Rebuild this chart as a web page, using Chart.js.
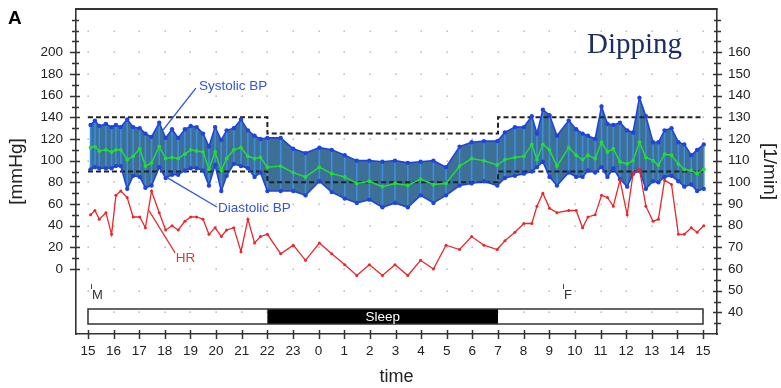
<!DOCTYPE html>
<html><head><meta charset="utf-8">
<script src="https://cdn.jsdelivr.net/npm/chart.js@4.4.0/dist/chart.umd.min.js"></script>
<style>html,body{margin:0;padding:0;background:#fff;}canvas{display:block;}</style>
</head><body>
<canvas id="c" width="781" height="388"></canvas>
<script>
// ---- data (hours since 15:00) ----
const times = [
  0.10,0.27,0.44,0.70,0.92,1.09,1.28,1.53,1.76,2.02,2.24,2.48,2.78,3.03,3.28,3.52,3.78,4.01,4.24,4.49,4.72,4.96,5.20,5.41,5.69,5.97,6.24,6.50,6.73,
  7.00,7.52,8.01,8.49,9.03,9.51,10.02,10.49,10.98,11.49,11.98,12.48,12.98,13.48,13.97,14.50,14.97,15.45,15.97,
  16.27,16.66,17.01,17.32,17.52,17.75,18.01,18.30,18.76,19.05,19.30,19.51,19.79,20.04,20.27,20.50,20.76,21.04,21.27,21.52,21.77,22.05,22.26,22.50,22.77,23.04,23.27,23.54,23.77,24.03
];
const systolic = [
  133,137,132,134,131,133,131,138,131,130,125,122,135,121,129,121,129,132,131,125,113,131,119,128,130,138,128,123,120,
  121,121,111,107,112,110,105,100,100,99,100,98,99,100,94,113,117,118,118,
  126,131,131,141,125,147,142,123,137,129,125,123,120,150,134,133,135,128,126,158,141,117,117,128,130,117,115,105,110,115
];
const diastolic = [
  92,94,93,93,93,95,95,74,86,85,75,77,94,84,87,87,91,93,93,91,77,96,72,86,97,95,93,85,89,
  72,72,72,68,81,71,65,61,64,57,61,57,68,61,68,77,79,81,77,
  84,86,88,90,94,99,85,77,89,85,85,91,89,94,85,93,83,76,88,91,74,81,80,85,86,81,76,78,72,74
];
const meanBP = [
  112,113,109,110,108,110,110,101,104,111,95,98,113,102,103,102,106,110,109,108,92,108,91,102,110,112,104,102,103,
  94,95,89,85,94,88,85,79,81,76,79,77,83,78,79,95,102,100,96,
  101,103,104,115,101,115,110,95,112,105,101,105,102,117,108,111,99,97,100,117,103,100,96,106,105,97,92,91,88,92
];
const heartRate = [
  85,87,83,86,76,94,96,93,84,84,79,96,86,78,80,78,82,84,84,83,76,79,75,78,79,68,83,72,75,
  76,67,71,64,72,67,62,57,62,57,62,57,64,60,71,69,75,71,69,
  73,77,81,81,89,95,88,86,87,87,79,84,85,94,93,89,101,85,104,106,89,82,83,101,99,76,76,79,77,80
];
const hourValues = [0,1,2,3,4,5,6,7,8,9,10,11,12,13,14,15,16,17,18,19,20,21,22,23,24];
const hourLabels = ['15','16','17','18','19','20','21','22','23','0','1','2','3','4','5','6','7','8','9','10','11','12','13','14','15'];
const leftTickValues = [0,20,40,60,80,100,120,140,160,180,200];
const rightTickValues = [40,50,60,70,80,90,100,110,120,130,140,150,160];
const leftMarkValues = [0,10,20,30,40,50,60,70,80,90,100,110,120,130,140,150,160,170,180,190,200,210,220,230];
const rightMarkValues = [35,40,45,50,55,60,65,70,75,80,85,90,95,100,105,110,115,120,125,130,135,140,145,150,155,160,165,170,175];
const dotRows = [-40,-20,0,20,40,60,80,100,120,140,160,180,200,220];
const limitTimes = [0, 7, 16, 24];
const upperLimit = [140, 125, 140, 140];
const lowerLimit = [90, 80, 90, 90];
const sleepPeriod = [7, 16];
const events = [{t: 0.10, label: 'M'}, {t: 18.52, label: 'F'}];

const FONT = '"Liberation Sans", Arial, sans-serif';
const pts = arr => times.map((t, i) => ({x: t, y: arr[i]}));
const lim = arr => limitTimes.map((t, i) => ({x: t, y: arr[i]}));

const decor = {
  id: 'decor',
  beforeDraw(chart) {
    const {ctx, scales: {x, y}} = chart;
    ctx.save();
    ctx.fillStyle = '#a0a0a0';
    for (const h of hourValues) for (const v of dotRows) {
      ctx.fillRect(Math.round(x.getPixelForValue(h)) - 0.5, Math.round(y.getPixelForValue(v)) - 0.5, 1.3, 1.3);
    }
    ctx.restore();
  },
  afterDraw(chart, args, o) {
    const {ctx, chartArea: ca, scales: {x, y, yR}} = chart;
    ctx.save();
    ctx.strokeStyle = '#333';
    ctx.lineWidth = 2;
    ctx.beginPath(); ctx.moveTo(ca.left - 0.5, ca.top); ctx.lineTo(ca.right + 0.5, ca.top); ctx.stroke();
    ctx.lineWidth = 1.5;
    ctx.beginPath();
    for (const v of leftMarkValues) {
      const py = Math.round(y.getPixelForValue(v)) + 0.5;
      const major = leftTickValues.includes(v);
      ctx.moveTo(ca.left - (major ? 6 : 4), py); ctx.lineTo(ca.left + (major ? 4 : 3), py);
    }
    for (const v of rightMarkValues) {
      const py = Math.round(yR.getPixelForValue(v)) + 0.5;
      const major = rightTickValues.includes(v);
      ctx.moveTo(ca.right - (major ? 4 : 3), py); ctx.lineTo(ca.right + (major ? 5 : 4), py);
    }
    for (const h of hourValues) {
      const px = Math.round(x.getPixelForValue(h)) + 0.5;
      ctx.moveTo(px, ca.bottom - 4); ctx.lineTo(px, ca.bottom + 5);
    }
    ctx.stroke();
    const bx0 = x.getPixelForValue(hourValues[0]), bx1 = x.getPixelForValue(hourValues[hourValues.length - 1]);
    const byT = Math.round(y.getPixelForValue(o.barTop)), byB = Math.round(y.getPixelForValue(o.barBottom));
    const sx0 = x.getPixelForValue(sleepPeriod[0]), sx1 = x.getPixelForValue(sleepPeriod[1]);
    ctx.fillStyle = '#000';
    ctx.fillRect(sx0, byT, sx1 - sx0, byB - byT);
    ctx.lineWidth = 1.5; ctx.strokeStyle = '#333';
    ctx.strokeRect(bx0, byT, bx1 - bx0, byB - byT);
    ctx.fillStyle = '#fff';
    ctx.font = '13.5px ' + FONT; ctx.textAlign = 'center'; ctx.textBaseline = 'middle';
    ctx.fillText('Sleep', (sx0 + sx1) / 2, (byT + byB) / 2 + 1);
    ctx.fillStyle = '#333'; ctx.strokeStyle = '#444'; ctx.lineWidth = 1;
    ctx.textAlign = 'left';
    ctx.font = '13px ' + FONT;
    for (const e of events) {
      const px = Math.round(x.getPixelForValue(e.t)) + 0.5;
      ctx.beginPath(); ctx.moveTo(px, y.getPixelForValue(o.evTickTop)); ctx.lineTo(px, y.getPixelForValue(o.evTickBottom)); ctx.stroke();
      ctx.fillText(e.label, px + 0.5, y.getPixelForValue(o.evText));
    }
    ctx.font = '13.5px ' + FONT; ctx.lineWidth = 1.3;
    for (const a of o.notes) {
      ctx.strokeStyle = a.color; ctx.fillStyle = a.color;
      ctx.beginPath();
      ctx.moveTo(x.getPixelForValue(a.from[0]), y.getPixelForValue(a.from[1]));
      ctx.lineTo(x.getPixelForValue(a.to[0]), y.getPixelForValue(a.to[1]));
      ctx.stroke();
      ctx.textBaseline = 'middle';
      ctx.fillText(a.text, x.getPixelForValue(a.tx), y.getPixelForValue(a.ty));
    }
    ctx.fillStyle = '#000'; ctx.textBaseline = 'alphabetic';
    ctx.font = 'bold 19px ' + FONT;
    ctx.fillText('A', 8, 24);
    ctx.fillStyle = '#1c2d66';
    ctx.font = '29px "Liberation Serif", "Times New Roman", serif';
    ctx.fillText('Dipping', 587, 53);
    ctx.restore();
  }
};

const tickFont = {family: FONT, size: 13.5};
const fitV = w => s => { s.width = w; s.paddingTop = 0; s.paddingBottom = 0; };
new Chart(document.getElementById('c'), {
  type: 'line',
  data: {
    datasets: [
      {label: 'Systolic BP', data: pts(systolic), yAxisID: 'y', borderColor: '#1f44e0', backgroundColor: '#3d6f97',
       pointBackgroundColor: '#1f44e0', pointBorderWidth: 0, pointRadius: 2.2, borderWidth: 1.6, fill: '+1', order: 3, tension: 0},
      {label: 'Diastolic BP', data: pts(diastolic), yAxisID: 'y', borderColor: '#1f44e0',
       pointBackgroundColor: '#1f44e0', pointBorderWidth: 0, pointRadius: 2.2, borderWidth: 1.6, fill: false, order: 3, tension: 0},
      {type: 'bar', label: 'range', data: times.map((t, i) => ({x: t, y: [diastolic[i], systolic[i]]})), yAxisID: 'y',
       backgroundColor: '#3c8ddc', borderWidth: 0, barThickness: 1, grouped: false, order: 10},
      {label: 'Mean', data: pts(meanBP), yAxisID: 'y', borderColor: '#22dd33', pointBackgroundColor: '#22dd33',
       pointBorderWidth: 0, pointRadius: 1.9, borderWidth: 1.5, fill: false, order: 2, tension: 0},
      {label: 'HR', data: pts(heartRate), yAxisID: 'yR', borderColor: '#e8282c', pointBackgroundColor: '#e8282c',
       pointBorderWidth: 0, pointRadius: 1.5, borderWidth: 1.3, fill: false, order: 1, tension: 0},
      {label: 'upper limit', data: lim(upperLimit), yAxisID: 'y', stepped: true, borderColor: '#222', borderDash: [5, 3],
       borderWidth: 2, pointRadius: 0, fill: false, order: 4},
      {label: 'lower limit', data: lim(lowerLimit), yAxisID: 'y', stepped: true, borderColor: '#222', borderDash: [5, 3],
       borderWidth: 2, pointRadius: 0, fill: false, order: 4}
    ]
  },
  options: {
    responsive: false, animation: false, devicePixelRatio: 1,
    layout: {autoPadding: false, padding: {top: 9, left: 0, right: 0, bottom: 0}},
    plugins: {
      legend: {display: false}, tooltip: {enabled: false},
      filler: {drawTime: 'beforeDatasetsDraw'},
      decor: {
        barTop: -36.5, barBottom: -51,
        evTickTop: -14, evTickBottom: -18.5, evText: -24,
        notes: [
          {text: 'Systolic BP', color: '#3355dd', tx: 4.33, ty: 169, from: [4.21, 167], to: [2.93, 128.3]},
          {text: 'Diastolic BP', color: '#3355dd', tx: 5.07, ty: 56.3, from: [5.03, 57.2], to: [3.04, 85]},
          {text: 'HR', color: '#e03535', tx: 3.42, ty: 10.2, from: [3.40, 14.8], to: [2.38, 53.8]}
        ]
      }
    },
    scales: {
      x: {
        type: 'linear', position: 'bottom', min: -0.468, max: 24.546, offset: false,
        afterBuildTicks: s => { s.ticks = hourValues.map(v => ({value: v})); },
        afterFit: s => { s.height = 54; s.paddingLeft = 0; s.paddingRight = 0; },
        ticks: {callback: (v, i) => hourLabels[i], color: '#222', font: tickFont, padding: 9, autoSkip: false, maxRotation: 0},
        grid: {display: false, drawTicks: false, offset: false},
        border: {display: true, color: '#333', width: 1.6},
        title: {display: true, text: 'time', color: '#222', font: {family: FONT, size: 18}, padding: {top: 0, bottom: 0}}
      },
      y: {
        type: 'linear', position: 'left', min: -60, max: 240,
        afterBuildTicks: s => { s.ticks = leftTickValues.map(v => ({value: v})); },
        afterFit: fitV(76),
        ticks: {color: '#222', font: tickFont, padding: 13},
        grid: {display: false, drawTicks: false},
        border: {display: true, color: '#333', width: 1.6},
        title: {display: true, text: '[mmHg]', color: '#222', font: {family: FONT, size: 19}, padding: {top: 5, bottom: 0}}
      },
      yR: {
        type: 'linear', position: 'right', min: 30, max: 180,
        afterBuildTicks: s => { s.ticks = rightTickValues.map(v => ({value: v})); },
        afterFit: fitV(64),
        ticks: {color: '#222', font: tickFont, padding: 11},
        grid: {display: false, drawTicks: false},
        border: {display: true, color: '#333', width: 1.6},
        title: {display: true, text: '[1/min]', color: '#222', font: {family: FONT, size: 19}, padding: {top: 0, bottom: 0}}
      }
    }
  },
  plugins: [decor]
});
</script>
</body></html>
